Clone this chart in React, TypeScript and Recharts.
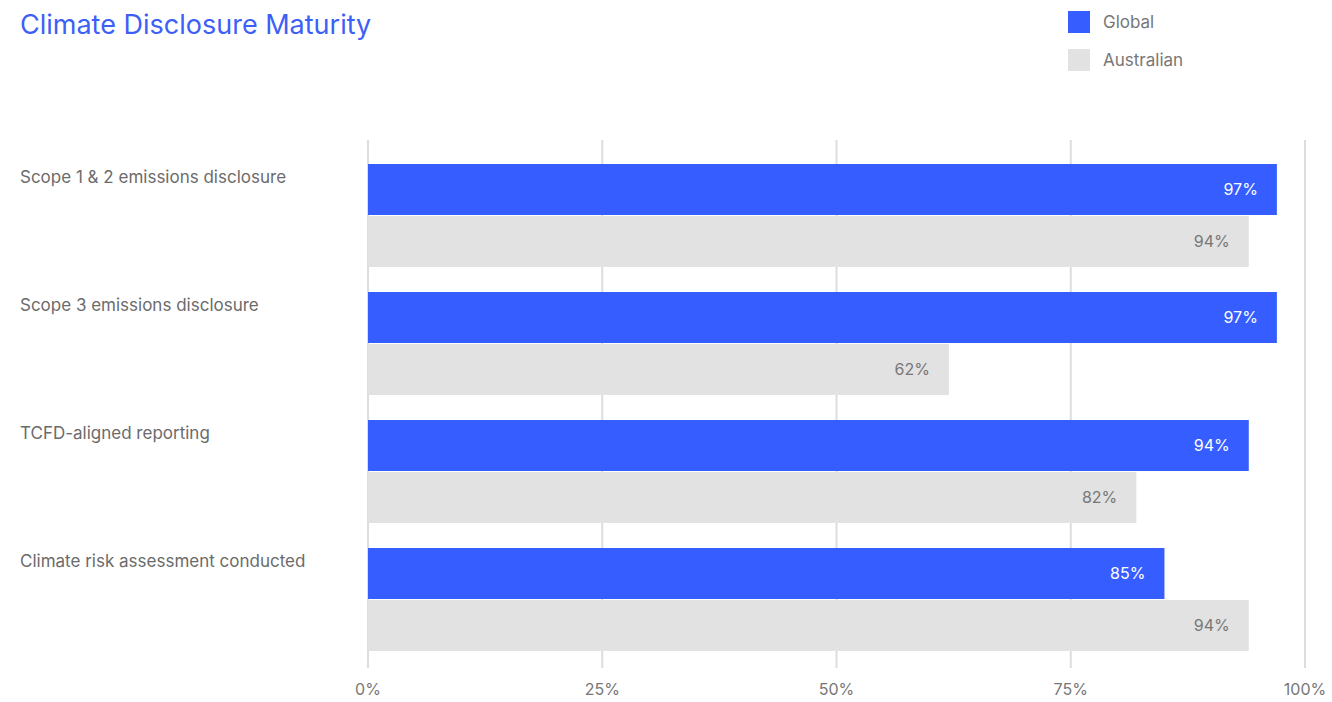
import React from 'react';
import {
  BarChart,
  Bar,
  XAxis,
  YAxis,
  CartesianGrid,
  LabelList
} from 'recharts';

const categories = [
  'Scope 1 & 2 emissions disclosure',
  'Scope 3 emissions disclosure',
  'TCFD-aligned reporting',
  'Climate risk assessment conducted'
];
const globalValues = [97, 97, 94, 85];
const australianValues = [94, 62, 82, 94];
const xTicks = [0, 25, 50, 75, 100];

const BLUE = '#355DFF';
const GREY = '#E2E2E2';
const FONT = 'Inter, "Noto Sans", sans-serif';

const data = categories.map((name, i) => ({
  name,
  global: globalValues[i],
  australian: australianValues[i]
}));

const legendItems = [
  { label: 'Global', color: BLUE },
  { label: 'Australian', color: GREY }
];

const CategoryTick = (props: any) => {
  const { y, payload } = props;
  return (
    <text
      x={20}
      y={y - 38}
      textAnchor="start"
      dominantBaseline="central"
      fill="#6B6B6B"
      fontSize={17}
      fontFamily={FONT}
    >
      {payload.value}
    </text>
  );
};

const App: React.FC = () => {
  return (
    <div
      style={{
        position: 'absolute',
        left: 0,
        top: 0,
        width: 1332,
        height: 702,
        background: '#fff',
        fontFamily: FONT
      }}
    >
      <div
        style={{
          position: 'absolute',
          left: 20,
          top: 8,
          fontSize: 27,
          color: '#3D5FF7',
          lineHeight: '34px'
        }}
      >
        Climate Disclosure Maturity
      </div>
      <div style={{ position: 'absolute', left: 1068, top: 11 }}>
        {legendItems.map(item => (
          <div
            key={item.label}
            style={{ display: 'flex', alignItems: 'center', height: 22, marginBottom: 16 }}
          >
            <div style={{ width: 22, height: 22, background: item.color, marginRight: 13 }} />
            <span style={{ color: '#777', fontSize: 17 }}>{item.label}</span>
          </div>
        ))}
      </div>
      <BarChart
        width={1332}
        height={702}
        data={data}
        layout="vertical"
        margin={{ top: 140, right: 27, bottom: 0, left: 20 }}
        barSize={51}
        barGap={1}
      >
        <CartesianGrid horizontal={false} stroke="#DDDDDD" strokeWidth={2} />
        <XAxis
          type="number"
          domain={[0, 100]}
          ticks={xTicks}
          tickFormatter={v => `${v}%`}
          axisLine={false}
          tickLine={false}
          tickMargin={10}
          height={34}
          tick={{ fill: '#777', fontSize: 16, fontFamily: FONT }}
        />
        <YAxis
          type="category"
          dataKey="name"
          width={348}
          axisLine={false}
          tickLine={false}
          padding={{ top: 11, bottom: 5 }}
          tick={<CategoryTick />}
        />
        <Bar dataKey="global" name="Global" fill={BLUE} isAnimationActive={false}>
          <LabelList
            dataKey="global"
            position="insideRight"
            offset={19}
            formatter={(v: any) => `${v}%`}
            fill="#FFFFFF"
            fontSize={16}
            fontFamily={FONT}
          />
        </Bar>
        <Bar dataKey="australian" name="Australian" fill={GREY} isAnimationActive={false}>
          <LabelList
            dataKey="australian"
            position="insideRight"
            offset={19}
            formatter={(v: any) => `${v}%`}
            fill="#777777"
            fontSize={16}
            fontFamily={FONT}
          />
        </Bar>
      </BarChart>
    </div>
  );
};

export default App;
